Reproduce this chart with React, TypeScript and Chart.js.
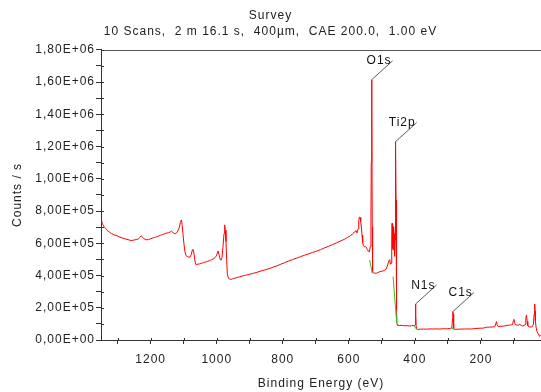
import { useEffect, useRef } from 'react';
import { Chart, registerables } from 'chart.js';

Chart.register(...registerables);

// Survey spectrum: [binding energy (eV), counts / s]
const spectrum: [number, number][] = [
  [1350, 738000], [1348, 730000], [1345, 716000], [1341, 702000], [1337, 694000], [1333, 684000],
  [1329, 674000], [1324, 668000], [1319, 660000], [1314, 656000], [1308, 650000], [1302, 647000],
  [1296, 640000], [1290, 636000], [1284, 631000], [1278, 628000], [1272, 624000], [1266, 621000],
  [1260, 617000], [1254, 619000], [1248, 621000], [1242, 624000], [1237, 628000], [1233, 636000],
  [1229, 646000], [1226, 640000], [1222, 632000], [1217, 624000], [1212, 621000], [1206, 624000],
  [1200, 628000], [1194, 632000], [1188, 636000], [1182, 640000], [1176, 645000], [1170, 650000],
  [1164, 654000], [1158, 659000], [1152, 663000], [1146, 666000], [1141, 670000], [1137, 676000],
  [1134, 671000], [1130, 662000], [1126, 658000], [1122, 664000], [1118, 676000], [1114, 694000],
  [1110, 728000], [1107, 745000], [1105, 718000], [1102, 652000], [1099, 590000], [1096, 545000],
  [1093, 524000], [1089, 518000], [1085, 515000], [1081, 514000], [1077, 530000], [1074, 558000],
  [1072, 562000], [1069, 540000], [1066, 490000], [1063, 468000], [1058, 470000], [1052, 472000],
  [1046, 476000], [1040, 480000], [1034, 484000], [1028, 488000], [1022, 492000], [1016, 498000],
  [1010, 504000], [1005, 512000], [1001, 522000], [998, 540000], [996, 552000], [993, 530000],
  [990, 502000], [987, 495000], [984, 510000], [981, 580000], [978, 660000], [976, 714000],
  [974, 680000], [972, 610000], [970, 500000], [968, 410000], [965, 385000], [962, 378000],
  [958, 376000], [952, 379000], [946, 383000], [938, 388000], [930, 392000], [920, 398000],
  [910, 403000], [900, 408000], [889, 414000], [878, 420000], [866, 428000], [854, 435000],
  [842, 443000], [830, 451000], [818, 460000], [806, 470000], [794, 480000], [782, 490000],
  [770, 499000], [758, 508000], [746, 517000], [734, 526000], [722, 534000], [710, 543000],
  [698, 551000], [686, 560000], [674, 571000], [662, 581000], [650, 591000], [638, 602000],
  [626, 613000], [614, 624000], [604, 636000], [596, 646000], [590, 655000], [585, 664000],
  [581, 674000], [578, 678000], [575, 664000], [572, 690000], [570, 740000], [568, 762000],
  [566, 760000], [564, 735000], [562, 700000], [560, 650000], [558, 605000], [556, 585000],
  [553, 578000], [550, 580000], [547, 576000], [544, 560000], [541, 552000], [538, 546000],
  [535, 580000], [533, 760000], [532, 1100000], [531, 1614000], [530, 1480000], [529, 700000],
  [528, 420000], [526, 416000], [522, 415000], [517, 414000], [512, 418000], [506, 424000],
  [500, 427000], [494, 430000], [488, 438000], [484, 455000], [481, 476000], [478, 494000],
  [476, 498000], [474, 470000], [472, 476000], [470, 620000], [469, 724000], [468, 640000],
  [467, 570000], [466, 559000], [465, 640000], [464, 703000], [463, 660000], [462, 560000],
  [461, 520000], [460, 620000], [459, 900000], [458, 1231000], [457, 869000], [456, 520000],
  [455, 200000], [454, 95000], [452, 92000], [446, 90000], [440, 91000], [432, 88000],
  [424, 89000], [416, 87000], [410, 88000], [405, 90000], [401, 88000], [399, 95000],
  [398, 223000], [397, 150000], [396, 80000], [395, 68000], [392, 66000], [384, 67000],
  [374, 68000], [364, 67000], [354, 69000], [344, 68000], [334, 69000], [324, 68000],
  [314, 70000], [304, 69000], [296, 71000], [291, 73000], [288, 74000], [286, 130000],
  [285, 176000], [284, 160000], [283, 95000], [282, 70000], [279, 66000], [270, 67000],
  [260, 68000], [250, 68000], [240, 69000], [232, 68000], [222, 70000], [212, 72000],
  [202, 73000], [192, 74000], [183, 79000], [174, 80000], [165, 81000], [158, 82000],
  [155, 100000], [153, 114000], [151, 95000], [148, 84000], [140, 85000], [132, 86000],
  [124, 89000], [116, 92000], [110, 93000], [104, 96000], [102, 118000], [100, 128000],
  [98, 110000], [96, 95000], [92, 93000], [87, 92000], [82, 96000], [78, 90000],
  [74, 87000], [70, 88000], [66, 98000], [64, 130000], [62, 155000], [60, 115000],
  [58, 88000], [54, 82000], [49, 80000], [45, 82000], [41, 98000], [39, 160000],
  [37, 223000], [36, 180000], [35, 120000], [33, 80000], [30, 52000], [26, 38000],
  [22, 22000], [19, 30000],
];

// Linear backgrounds under the fitted peaks: [eV, counts]
const o1sBackground: [number, number][] = [[537, 497000], [529, 414000]];
const ti2pBackground: [number, number][] = [[466, 393000], [455, 104000]];
const n1sBackground: [number, number][] = [[405, 92000], [395, 68000]];
const c1sBackground: [number, number][] = [[291, 73000], [281, 68000]];

// Peak annotations
const peakLabels = ['O1s', 'Ti2p', 'N1s', 'C1s'];
const peakEnergies = [531, 458, 398, 285];
const peakCounts = [1614000, 1231000, 223000, 176000];

// Axes
const xTickValues = [1300, 1200, 1100, 1000, 900, 800, 700, 600, 500, 400, 300, 200, 100];
const xLabeledTicks = [1200, 1000, 800, 600, 400, 200];
const xMin = 18;
const xMax = 1350.5;
const yMax = 1800000;

const titleText = 'Survey';
const subtitleText = '10 Scans,  2 m 16.1 s,  400µm,  CAE 200.0,  1.00 eV';
const xTitle = 'Binding Energy (eV)';
const yTitle = 'Counts / s';

const FONT = '"Liberation Sans", Arial, sans-serif';

const fmtSci = (v: number) => {
  if (Math.abs(v) < 1e-9) return '0,00E+00';
  const exp = Math.floor(Math.log10(Math.abs(v)) + 1e-9);
  const mant = v / Math.pow(10, exp);
  return (
    mant.toFixed(2).replace('.', ',') +
    'E' +
    (exp >= 0 ? '+' : '-') +
    String(Math.abs(exp)).padStart(2, '0')
  );
};

const toPts = (arr: [number, number][]) => arr.map(([x, y]) => ({ x, y }));

const decorPlugin = {
  id: 'decor',
  beforeUpdate(chart: any) {
    chart.ctx.letterSpacing = '1px';
  },
  beforeLayout(chart: any) {
    chart.ctx.letterSpacing = '1px';
  },
  beforeDraw(chart: any) {
    const ctx = chart.ctx;
    ctx.letterSpacing = '1px';
    ctx.save();
    ctx.fillStyle = '#ffffff';
    ctx.fillRect(0, 0, chart.width, chart.height);
    ctx.restore();
  },
  afterDatasetsDraw(chart: any) {
    const { ctx, chartArea, scales } = chart;
    ctx.save();
    ctx.strokeStyle = '#555555';
    ctx.lineWidth = 1;
    ctx.beginPath();
    ctx.moveTo(chartArea.left, Math.round(chartArea.top) + 0.5);
    ctx.lineTo(chartArea.right, Math.round(chartArea.top) + 0.5);
    ctx.stroke();

    // inner halves of the tick marks (ticks cross the axis lines)
    ctx.strokeStyle = '#333333';
    ctx.beginPath();
    scales.y.ticks.forEach((t: any) => {
      const py = Math.round(scales.y.getPixelForValue(t.value)) + 0.5;
      ctx.moveTo(chartArea.left, py);
      ctx.lineTo(chartArea.left + 3, py);
    });
    scales.x.ticks.forEach((t: any) => {
      const px = Math.round(scales.x.getPixelForValue(t.value)) + 0.5;
      ctx.moveTo(px, chartArea.bottom);
      ctx.lineTo(px, chartArea.bottom - 2);
    });
    ctx.stroke();

    ctx.font = `12px ${FONT}`;
    ctx.letterSpacing = '1px';
    peakLabels.forEach((lab, i) => {
      const px = scales.x.getPixelForValue(peakEnergies[i]);
      const py = scales.y.getPixelForValue(peakCounts[i]);
      const ex = px + 21;
      const ey = py - 19;
      ctx.strokeStyle = '#333333';
      ctx.lineWidth = 0.8;
      ctx.beginPath();
      ctx.moveTo(px, py);
      ctx.lineTo(ex, ey);
      ctx.stroke();
      ctx.fillStyle = '#111111';
      ctx.textAlign = 'right';
      ctx.textBaseline = 'alphabetic';
      ctx.fillText(lab, ex - 1, ey + 3.5);
    });
    ctx.restore();
  },
};

export default function App() {
  const ref = useRef<HTMLCanvasElement>(null);

  useEffect(() => {
    const canvas = ref.current;
    if (!canvas) return;
    Chart.defaults.font.family = FONT;
    Chart.defaults.font.size = 12;
    Chart.defaults.color = '#222222';

    const bgStyle = {
      borderColor: '#22cc22',
      borderWidth: 1,
      pointRadius: 0,
      fill: false,
    };

    const chart = new Chart(canvas, {
      type: 'line',
      data: {
        datasets: [
          { ...bgStyle, data: toPts(o1sBackground) },
          { ...bgStyle, data: toPts(ti2pBackground) },
          { ...bgStyle, data: toPts(n1sBackground) },
          { ...bgStyle, data: toPts(c1sBackground) },
          {
            data: toPts(spectrum),
            borderColor: '#ff0000',
            borderWidth: 1,
            pointRadius: 0,
            fill: false,
            tension: 0,
          },
        ],
      },
      options: {
        animation: false,
        responsive: false,
        devicePixelRatio: 1,
        parsing: false as any,
        layout: { padding: 0 },
        plugins: {
          legend: { display: false },
          tooltip: { enabled: false },
          title: {
            display: true,
            text: titleText,
            color: '#222222',
            font: { family: FONT, size: 12, weight: 'normal' },
            padding: { top: 8, bottom: 2 },
          },
          subtitle: {
            display: true,
            text: subtitleText,
            color: '#222222',
            font: { family: FONT, size: 12, weight: 'normal' },
            padding: { top: 0, bottom: 11 },
          },
        },
        scales: {
          x: {
            type: 'linear',
            reverse: true,
            min: xMin,
            max: xMax,
            afterBuildTicks: (scale: any) => {
              scale.ticks = xTickValues.map((v) => ({ value: v }));
            },
            afterFit: (scale: any) => {
              scale.height = 52;
            },
            ticks: {
              autoSkip: false,
              maxRotation: 0,
              padding: 8,
              color: '#222222',
              font: { family: FONT, size: 12 },
              callback: (value: any) =>
                xLabeledTicks.includes(Number(value)) ? String(value) : '',
            },
            grid: {
              display: true,
              drawOnChartArea: false,
              drawTicks: true,
              tickLength: 4,
              color: '#333333',
            },
            border: { display: true, color: '#333333', width: 1 },
            title: {
              display: true,
              text: xTitle,
              color: '#222222',
              font: { family: FONT, size: 12 },
              padding: { top: 0, bottom: 1.5 },
            },
          },
          y: {
            type: 'linear',
            min: 0,
            max: yMax,
            afterFit: (scale: any) => {
              scale.width = 101;
            },
            ticks: {
              stepSize: 100000,
              autoSkip: false,
              padding: 1,
              color: '#222222',
              font: { family: FONT, size: 12 },
              callback: (value: any) =>
                Math.round(Number(value) / 100000) % 2 === 0 ? fmtSci(Number(value)) : '',
            },
            grid: {
              display: true,
              drawOnChartArea: false,
              drawTicks: true,
              tickLength: 5,
              color: '#333333',
            },
            border: { display: true, color: '#333333', width: 1 },
            title: {
              display: true,
              text: yTitle,
              color: '#222222',
              font: { family: FONT, size: 12 },
              padding: { top: 10, bottom: 0 },
            },
          },
        },
      },
      plugins: [decorPlugin],
    } as any);

    return () => chart.destroy();
  }, []);

  return (
    <div style={{ position: 'fixed', left: 0, top: 0, width: 541, height: 392, background: '#fff' }}>
      <canvas ref={ref} width={541} height={392} style={{ display: 'block', width: 541, height: 392 }} />
    </div>
  );
}
